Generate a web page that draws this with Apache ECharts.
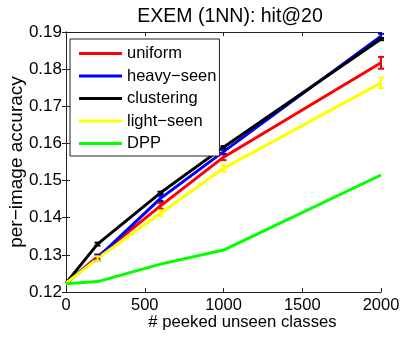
<!DOCTYPE html>
<html>
<head>
<meta charset="utf-8">
<script src="https://cdn.jsdelivr.net/npm/echarts@6/dist/echarts.min.js"></script>
<style>
  html, body { margin: 0; padding: 0; background: #fff; }
  #chart { width: 400px; height: 337px; }
</style>
</head>
<body>
<div id="chart"></div>
<script>
// peeked unseen classes
var peeked = [0, 200, 600, 1000, 2000];

var uniform    = [0.1224, 0.1295, 0.1432, 0.1563, 0.1817];
var heavySeen  = [0.1224, 0.1292, 0.1452, 0.1578, 0.1889];
var clustering = [0.1224, 0.1329, 0.1467, 0.1590, 0.1881];
var lightSeen  = [0.1224, 0.1290, 0.1412, 0.1533, 0.1763];
var dpp        = [0.1222, 0.1228, 0.1275, 0.1313, 0.1515];

// half-width of error bars
var uniformErr    = [0, 0.0006, 0.0008, 0.0008, 0.0016];
var heavySeenErr  = [0, 0.0008, 0.0007, 0.0006, 0.0006];
var clusteringErr = [0, 0.0004, 0.0003, 0.0003, 0.0003];
var lightSeenErr  = [0, 0.0006, 0.0008, 0.0009, 0.0014];

var font = 'Liberation Sans, Arial, sans-serif';

var chart = echarts.init(document.getElementById('chart'));

function lineSeries(name, vals, color) {
    return {
        name: name,
        type: 'line',
        symbol: 'none',
        data: peeked.map(function (x, i) { return [x, vals[i]]; }),
        lineStyle: { color: color, width: 3 },
        itemStyle: { color: color },
        z: 3
    };
}

function errSeries(vals, errs, color) {
    return {
        type: 'custom',
        silent: true,
        z: 4,
        data: peeked.map(function (x, i) { return [x, vals[i], errs[i]]; }),
        renderItem: function (params, api) {
            var x = api.value(0), y = api.value(1), e = api.value(2);
            if (!e) return;
            var hi = api.coord([x, y + e]);
            var lo = api.coord([x, y - e]);
            var w = 3;
            var style = { stroke: color, lineWidth: 2 };
            return {
                type: 'group',
                children: [
                    { type: 'line', shape: { x1: hi[0], y1: hi[1], x2: lo[0], y2: lo[1] }, style: style },
                    { type: 'line', shape: { x1: hi[0] - w, y1: hi[1], x2: hi[0] + w, y2: hi[1] }, style: style },
                    { type: 'line', shape: { x1: lo[0] - w, y1: lo[1], x2: lo[0] + w, y2: lo[1] }, style: style }
                ]
            };
        }
    };
}

var axisCommon = {
    axisLine: { show: true, lineStyle: { color: '#222', width: 1 } },
    axisTick: { show: true, inside: true, length: 4, lineStyle: { color: '#222' } },
    splitLine: { show: false }
};

chart.setOption({
    animation: false,
    backgroundColor: '#fff',
    title: {
        text: 'EXEM (1NN): hit@20',
        left: 225,
        top: 2,
        textAlign: 'center',
        textStyle: { fontFamily: font, fontSize: 19.5, fontWeight: 'normal', color: '#000' }
    },
    grid: { left: 66, right: 19, top: 32, bottom: 45, containLabel: false, outerBoundsMode: 'none' },
    legend: {
        left: 70,
        top: 39,
        orient: 'vertical',
        itemWidth: 43,
        itemHeight: 3,
        itemGap: 5.5,
        icon: 'rect',
        padding: [6, 3, 4, 9],
        borderColor: '#222',
        borderWidth: 1,
        borderRadius: 0,
        backgroundColor: '#fff',
        textStyle: { fontFamily: font, fontSize: 16.5, lineHeight: 16, color: '#000' },
        data: ['uniform', 'heavy−seen', 'clustering', 'light−seen', 'DPP']
    },
    xAxis: [
        Object.assign({}, axisCommon, {
            type: 'value', min: 0, max: 2000, interval: 500,
            name: '# peeked unseen classes',
            nameLocation: 'middle',
            nameGap: 22,
            nameMoveOverlap: false,
            nameTextStyle: { fontFamily: font, fontSize: 16.7, color: '#000', padding: [0, 0, 0, 38] },
            axisLabel: {
                fontFamily: font, fontSize: 16.5, color: '#000', margin: 5,
                formatter: function (v) { return String(v); }
            }
        }),
        Object.assign({}, axisCommon, {
            type: 'value', min: 0, max: 2000, interval: 500, position: 'top',
            axisLabel: { show: false }
        })
    ],
    yAxis: [
        Object.assign({}, axisCommon, {
            type: 'value', min: 0.12, max: 0.19, interval: 0.01,
            name: 'per−image accuracy',
            nameLocation: 'middle',
            nameGap: 40,
            nameMoveOverlap: false,
            nameTextStyle: { fontFamily: font, fontSize: 19, color: '#000' },
            axisLabel: {
                fontFamily: font, fontSize: 17, color: '#000', margin: 4,
                formatter: function (v) { return v.toFixed(2); }
            }
        }),
        Object.assign({}, axisCommon, {
            type: 'value', min: 0.12, max: 0.19, interval: 0.01, position: 'right',
            axisLabel: { show: false }
        })
    ],
    series: [
        lineSeries('uniform', uniform, '#ff0000'),
        errSeries(uniform, uniformErr, '#ff0000'),
        lineSeries('heavy−seen', heavySeen, '#0000ff'),
        errSeries(heavySeen, heavySeenErr, '#0000ff'),
        lineSeries('clustering', clustering, '#000000'),
        errSeries(clustering, clusteringErr, '#000000'),
        lineSeries('light−seen', lightSeen, '#ffff00'),
        errSeries(lightSeen, lightSeenErr, '#ffff00'),
        lineSeries('DPP', dpp, '#00ff00')
    ]
});
</script>
</body>
</html>
